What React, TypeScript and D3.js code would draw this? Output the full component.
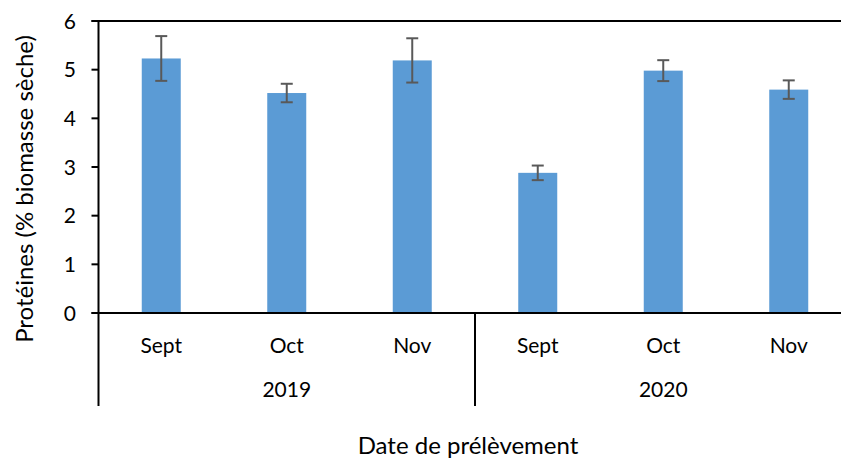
import React from "react";
import * as d3 from "d3";

const months = ["Sept", "Oct", "Nov", "Sept", "Oct", "Nov"];
const years = ["2019", "2020"];
const values = [5.23, 4.52, 5.19, 2.88, 4.98, 4.59];
const errors = [0.46, 0.19, 0.455, 0.15, 0.215, 0.19];
const yTicks = [0, 1, 2, 3, 4, 5, 6];

const W = 841;
const H = 459;
const left = 98.5;
const bandW = 125.5;
const top = 21;
const bottom = 313;

export default function App() {
  const ids = months.map((_, i) => String(i));
  const x = d3.scaleBand<string>().domain(ids).range([left, left + bandW * 6]);
  const y = d3.scaleLinear().domain([0, 6]).range([bottom, top]);
  const font = "Lato, 'Open Sans', sans-serif";
  const bw = 39;
  const cxOf = (i: number) => (x(String(i)) as number) + x.bandwidth() / 2;
  return (
    <svg width={W} height={H} style={{ position: "absolute", left: 0, top: 0, background: "#fff" }}>
      <line x1={left - 7} x2={W} y1={y(6)} y2={y(6)} stroke="#000" strokeWidth={2} />
      {values.map((v, i) => (
        <rect key={"b" + i} x={cxOf(i) - bw / 2} y={y(v)} width={bw} height={y(0) - y(v)} fill="#5B9BD5" />
      ))}
      {values.map((v, i) => {
        const cx = cxOf(i);
        const y1 = y(v + errors[i]);
        const y2 = y(v - errors[i]);
        return (
          <g key={"e" + i} stroke="#595959" strokeWidth={2}>
            <line x1={cx} x2={cx} y1={y1} y2={y2} />
            <line x1={cx - 6} x2={cx + 6} y1={y1} y2={y1} />
            <line x1={cx - 6} x2={cx + 6} y1={y2} y2={y2} />
          </g>
        );
      })}
      <line x1={left} x2={left} y1={top - 1} y2={bottom} stroke="#000" strokeWidth={2} />
      {yTicks.map((t) => (
        <g key={"t" + t}>
          <line x1={left - 7} x2={left} y1={y(t)} y2={y(t)} stroke="#000" strokeWidth={2} />
          <text x={76} y={y(t)} dy="0.36em" textAnchor="end" fontFamily={font} fontSize={21} fill="#000">
            {t}
          </text>
        </g>
      ))}
      <line x1={left - 7} x2={W} y1={bottom} y2={bottom} stroke="#000" strokeWidth={2} />
      <line x1={left} x2={left} y1={bottom} y2={406} stroke="#000" strokeWidth={2} />
      <line x1={left + bandW * 3} x2={left + bandW * 3} y1={bottom} y2={406} stroke="#000" strokeWidth={2} />
      {months.map((m, i) => (
        <text key={"m" + i} x={cxOf(i)} y={353} textAnchor="middle" fontFamily={font} fontSize={21} fill="#000">
          {m}
        </text>
      ))}
      {years.map((yr, i) => (
        <text key={"y" + i} x={left + bandW * (i * 3 + 1.5)} y={397} textAnchor="middle" fontFamily={font} fontSize={21} fill="#000">
          {yr}
        </text>
      ))}
      <text x={468} y={454} textAnchor="middle" fontFamily={font} fontSize={24} fill="#000">
        Date de prélèvement
      </text>
      <text transform={`translate(33,189) rotate(-90)`} textAnchor="middle" fontFamily={font} fontSize={24} fill="#000">
        Protéines (% biomasse sèche)
      </text>
    </svg>
  );
}
